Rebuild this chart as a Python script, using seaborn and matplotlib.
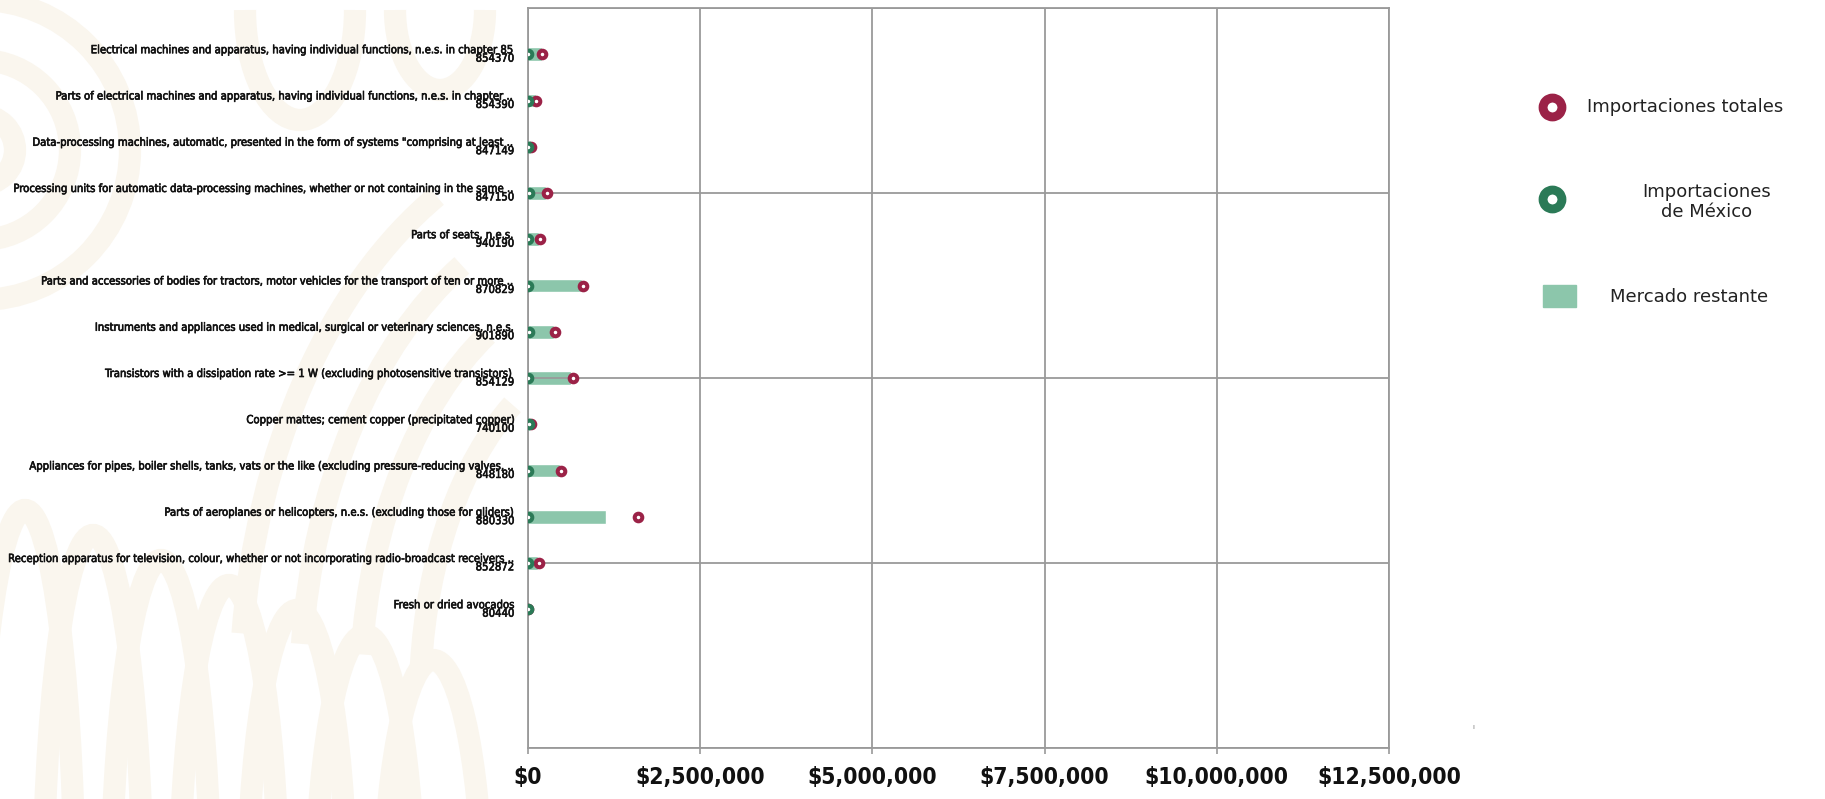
import numpy as np
import pandas as pd
import seaborn as sns
import matplotlib.pyplot as plt
import matplotlib.patheffects as pe
from matplotlib.lines import Line2D
from matplotlib.patches import Rectangle, Arc
from matplotlib.ticker import FuncFormatter, FixedLocator
from matplotlib import font_manager

# datos del grafico
productos = [
    "Electrical machines and apparatus, having individual functions, n.e.s. in chapter 85",
    "Parts of electrical machines and apparatus, having individual functions, n.e.s. in chapter ..",
    "Data-processing machines, automatic, presented in the form of systems \"comprising at least ..",
    "Processing units for automatic data-processing machines, whether or not containing in the same ..",
    "Parts of seats, n.e.s.",
    "Parts and accessories of bodies for tractors, motor vehicles for the transport of ten or more ..",
    "Instruments and appliances used in medical, surgical or veterinary sciences, n.e.s.",
    "Transistors with a dissipation rate >= 1 W (excluding photosensitive transistors)",
    "Copper mattes; cement copper (precipitated copper)",
    "Appliances for pipes, boiler shells, tanks, vats or the like (excluding pressure-reducing valves, ..",
    "Parts of aeroplanes or helicopters, n.e.s. (excluding those for gliders)",
    "Reception apparatus for television, colour, whether or not incorporating radio-broadcast receivers ..",
    "Fresh or dried avocados",
]
codigos = ["854370", "854390", "847149", "847150", "940190", "870829", "901890",
           "854129", "740100", "848180", "880330", "852872", "80440"]
importaciones_totales = [207000, 123000, 45000, 272000, 168000, 798000, 389000,
                         648000, 45000, 479000, 1597000, 155000, 5000]
importaciones_mexico = [3000, 2000, 5000, 12000, 3000, 3000, 12000,
                        3000, 10000, 3000, 3000, 3000, 3000]
mercado_restante = [200000, 118000, 40000, 260000, 165000, 785000, 375000,
                    628000, 35000, 470000, 1128000, 150000, 0]
x_ticks = [0, 2500000, 5000000, 7500000, 10000000, 12500000]

guinda = "#9B2247"
verde = "#2B7A57"
verde_claro = "#8CC6AB"
gris = "#9A9A9A"
beige = "#FAF6EE"

df = pd.DataFrame({
    "etiqueta": [p + "\n" + c for p, c in zip(productos, codigos)],
    "total": importaciones_totales,
    "mexico": importaciones_mexico,
    "restante": mercado_restante,
})
df["pos"] = np.arange(len(df))

sns.set_theme(style="white")
plt.rcParams["font.family"] = ["DejaVu Sans"]

# fuente condensada si existe
fp = font_manager.FontProperties(family="DejaVu Sans", stretch="condensed")
estrecha = "ondensed" in font_manager.findfont(fp)
stretch = "condensed" if estrecha else "normal"

fig = plt.figure(figsize=(18.25, 7.99), dpi=100)
fig.patch.set_facecolor("white")

# marca de agua (decorativa), coordenadas en pixeles desde arriba
def arco(cx, cy, w, h, t1, t2, lw=16):
    fig.add_artist(Arc((cx, 799 - cy), w, h, theta1=t1, theta2=t2,
                       transform=None, lw=lw, color=beige, zorder=-5))

arco(-20, 150, 300, 300, -90, 90)
arco(-20, 150, 180, 180, -90, 90)
arco(-20, 150, 70, 70, -90, 90)
for i in range(7):
    arco(25 + 68 * i, 920, 100, 820 - 50 * i, 0, 180)
for i in range(4):
    arco(620, 700, 760 - 120 * i, 1150 - 150 * i, 110, 170)
arco(300, 10, 110, 220, 180, 360)
arco(440, 10, 90, 160, 180, 360)

ax = fig.add_axes([528 / 1825, 1 - 748 / 799, (1389 - 528) / 1825, (748 - 8) / 799])
ax.set_facecolor("none")

sns.barplot(data=df, x="restante", y="etiqueta", orient="h", color=verde_claro,
            width=0.3, saturation=1, ax=ax, zorder=2)
sns.scatterplot(data=df, x="total", y="pos", ax=ax, s=30, facecolor="white",
                edgecolor=guinda, linewidth=2.9, zorder=3, legend=False)
sns.scatterplot(data=df, x="mexico", y="pos", ax=ax, s=30, facecolor="white",
                edgecolor=verde, linewidth=2.9, zorder=4, legend=False)

ax.set_xlim(0, 12500000)
ax.set_ylim(15, -1)
ax.set_xticks(x_ticks)
ax.xaxis.set_major_formatter(FuncFormatter(lambda v, p: "${:,.0f}".format(v)))
ax.set_yticks(df["pos"])
ax.set_yticklabels(df["etiqueta"])
ax.yaxis.remove_overlapping_locs = False
ax.yaxis.set_minor_locator(FixedLocator([-1, 3, 7, 11, 15]))
ax.set_xlabel("")
ax.set_ylabel("")

ax.set_axisbelow(False)
ax.grid(axis="x", which="major", color=gris, lw=1.3, zorder=2.5)
ax.grid(axis="y", which="minor", color=gris, lw=1.3, zorder=2.5)
ax.grid(axis="y", which="major", visible=False)
for s in ax.spines.values():
    s.set_color(gris)
    s.set_linewidth(1.3)

ax.tick_params(axis="y", which="both", length=0, pad=10)
ax.tick_params(axis="x", length=4, width=1.2, color=gris, direction="out",
               bottom=True, pad=9)
grueso = [pe.withStroke(linewidth=0.45, foreground="#111111")]
for t in ax.get_yticklabels():
    t.set_family("DejaVu Sans")
    t.set_stretch(stretch)
    t.set_fontsize(8)
    t.set_linespacing(0.8)
    t.set_color("#111111")
    t.set_path_effects(grueso)
for t in ax.get_xticklabels():
    t.set_family("DejaVu Sans")
    t.set_stretch(stretch)
    t.set_fontsize(18)
    t.set_fontweight("bold")
    t.set_color("#111111")

# ajustar tamanos al ancho del original
fig.canvas.draw()
r = fig.canvas.get_renderer()
ancho = max(t.get_window_extent(r).width for t in ax.get_yticklabels())
f_y = 8 * min(1.05, 505 / ancho)
for t in ax.get_yticklabels():
    t.set_fontsize(f_y)
ancho_x = ax.get_xticklabels()[1].get_window_extent(r).width
f_x = 18 * 130 / ancho_x
for t in ax.get_xticklabels():
    t.set_fontsize(f_x)

# leyenda
def fx(x):
    return x / 1825

def fy(y):
    return 1 - y / 799

fig.add_artist(Line2D([fx(1552)], [fy(107)], marker="o", ms=13.6, mew=6.4,
                      mfc="white", mec=guinda, transform=fig.transFigure))
fig.add_artist(Line2D([fx(1552)], [fy(199)], marker="o", ms=13.6, mew=6.4,
                      mfc="white", mec=verde, transform=fig.transFigure))
fig.add_artist(Rectangle((fx(1543), fy(307)), 33 / 1825, 22 / 799,
                         color=verde_claro, transform=fig.transFigure))
fig.text(fx(1587), fy(107), "Importaciones totales", fontsize=13,
         va="center", ha="left", color="#222222")
fig.text(fx(1707), fy(202), "Importaciones\nde México", fontsize=13,
         va="center", ha="center", multialignment="center", color="#222222")
fig.text(fx(1610), fy(297), "Mercado restante", fontsize=13,
         va="center", ha="left", color="#222222")
fig.text(fx(1473), fy(727), "ı", fontsize=5, color="#777777", ha="center", va="center")

fig.savefig("out.png", dpi=100)
